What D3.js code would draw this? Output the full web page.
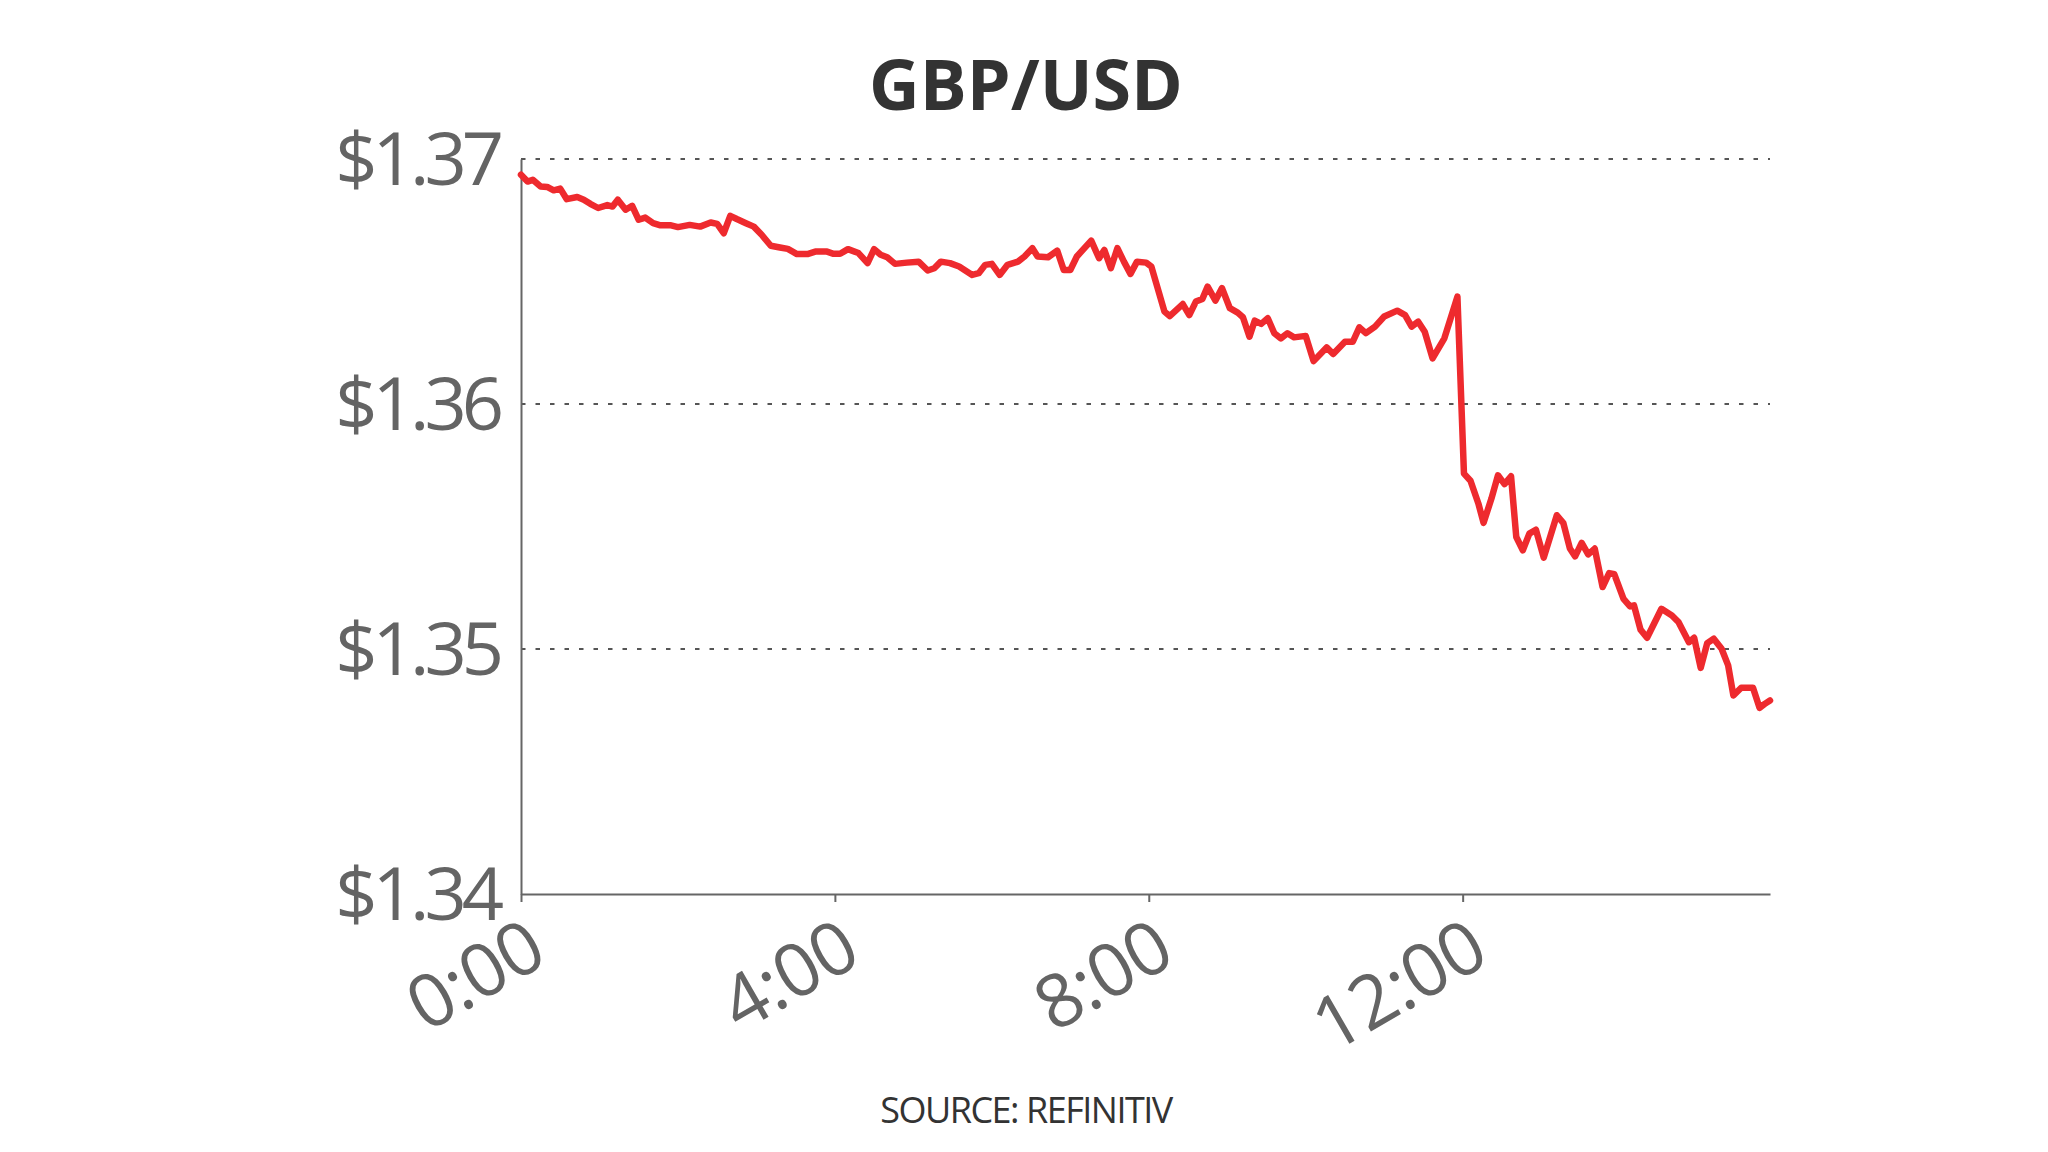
<!DOCTYPE html>
<html>
<head>
<meta charset="utf-8">
<script src="https://cdn.jsdelivr.net/npm/d3@7"></script>
<style>
  html, body { margin: 0; padding: 0; background: #ffffff; }
  svg { display: block; }
</style>
</head>
<body>
<svg id="chart" width="2048" height="1152"></svg>
<script>
// ---- data ----
const title = "GBP/USD";
const source = "SOURCE: REFINITIV";

// minutes since 0:00
const minutes = [
  0,5,9,15,20,25,30,35,43,48,
  53,59,66,70,74,80,85,90,95,101,
  106,114,120,129,137,145,150,155,160,165,
  172,178,184,191,198,204,211,219,225,234,
  239,244,250,258,265,270,275,280,286,295,
  304,311,316,321,328,335,345,350,355,360,
  366,372,380,385,391,395,403,410,415,420,
  425,436,442,446,451,456,461,466,471,478,
  482,492,496,506,511,516,521,525,531,536,
  542,548,552,557,561,566,571,576,581,586,
  591,600,606,616,621,630,636,641,646,653,
  660,670,676,681,686,691,697,706,716,721,
  726,732,736,742,747,752,757,761,766,771,
  776,782,792,797,802,806,811,816,821,827,
  832,836,843,848,851,856,861,872,880,885,
  893,897,902,907,912,918,923,927,933,942,
  947,951,955
];

const rates = [
  1.36936,1.36908,1.36915,1.36888,1.36886,1.36872,1.36879,1.36836,1.36845,1.36834,
  1.36817,1.36800,1.36812,1.36806,1.36834,1.36793,1.36809,1.36752,1.36761,1.36738,
  1.36730,1.36730,1.36722,1.36731,1.36724,1.36741,1.36735,1.36697,1.36768,1.36755,
  1.36738,1.36724,1.36691,1.36646,1.36639,1.36633,1.36612,1.36612,1.36622,1.36622,
  1.36613,1.36613,1.36632,1.36616,1.36575,1.36632,1.36609,1.36599,1.36572,1.36577,
  1.36581,1.36545,1.36554,1.36581,1.36575,1.36561,1.36527,1.36534,1.36568,1.36572,
  1.36527,1.36568,1.36581,1.36602,1.36636,1.36602,1.36599,1.36626,1.36547,1.36547,
  1.36602,1.36667,1.36595,1.36629,1.36554,1.36636,1.36581,1.36531,1.36581,1.36577,
  1.36561,1.36377,1.36359,1.36408,1.36363,1.36418,1.36429,1.36479,1.36422,1.36473,
  1.36391,1.36373,1.36354,1.36275,1.36340,1.36327,1.36350,1.36289,1.36268,1.36289,
  1.36272,1.36278,1.36175,1.36231,1.36204,1.36254,1.36254,1.36313,1.36289,1.36316,
  1.36357,1.36381,1.36363,1.36316,1.36336,1.36295,1.36186,1.36268,1.36438,1.35716,
  1.35687,1.35594,1.35515,1.35614,1.35709,1.35673,1.35705,1.35457,1.35403,1.35471,
  1.35487,1.35373,1.35546,1.35514,1.35410,1.35378,1.35433,1.35386,1.35410,1.35253,
  1.35310,1.35305,1.35205,1.35174,1.35178,1.35079,1.35046,1.35164,1.35137,1.35110,
  1.35028,1.35046,1.34923,1.35024,1.35042,1.35001,1.34933,1.34810,1.34842,1.34842,
  1.34760,1.34776,1.34790
];

const xTickValues = [0, 240, 480, 720];
const xTickLabels = ["0:00", "4:00", "8:00", "12:00"];
const yTickValues = [1.34, 1.35, 1.36, 1.37];
const yTickLabels = ["$1.34", "$1.35", "$1.36", "$1.37"];

// ---- layout ----
const plotLeft = 521, plotRight = 1770, plotTop = 159, plotBottom = 894;

const svg = d3.select("#chart");

const x = d3.scaleLinear().domain([0, 955]).range([plotLeft, plotRight]);
const y = d3.scaleLinear().domain([1.34, 1.37]).range([plotBottom, plotTop]);

const data = minutes.map((m, i) => ({ m, v: rates[i] }));

// title
svg.append("text")
  .attr("x", 1026)
  .attr("y", 110)
  .attr("text-anchor", "middle")
  .attr("font-family", "'Open Sans', sans-serif")
  .attr("font-weight", 700)
  .attr("font-size", 70)
  .attr("fill", "#333333")
  .text(title);

// gridlines
svg.append("g")
  .selectAll("line")
  .data(yTickValues.filter(v => v !== 1.34))
  .join("line")
  .attr("x1", plotLeft)
  .attr("x2", plotRight)
  .attr("y1", d => y(d))
  .attr("y2", d => y(d))
  .attr("stroke", "#555555")
  .attr("stroke-width", 2)
  .attr("stroke-dasharray", "4.5,10");

// y axis
const yAxis = svg.append("g")
  .attr("transform", `translate(${plotLeft},0)`)
  .call(d3.axisLeft(y)
    .tickValues(yTickValues)
    .tickFormat((d, i) => yTickLabels[i])
    .tickSize(0)
    .tickPadding(22));
yAxis.select(".domain").attr("stroke", "#666666").attr("stroke-width", 2);
yAxis.selectAll("text")
  .attr("font-family", "'Open Sans', sans-serif")
  .attr("font-size", 74)
  .attr("letter-spacing", "-5px")
  .attr("fill", "#646464")
  .attr("dy", "0.35em");

// x axis
const xAxis = svg.append("g")
  .attr("transform", `translate(0,${plotBottom})`)
  .call(d3.axisBottom(x)
    .tickValues(xTickValues)
    .tickFormat((d, i) => xTickLabels[i])
    .tickSize(8)
    .tickSizeOuter(0));
xAxis.select(".domain").attr("stroke", "#666666").attr("stroke-width", 2);
xAxis.selectAll(".tick line").attr("stroke", "#666666").attr("stroke-width", 2);
xAxis.selectAll("text")
  .attr("font-family", "'Open Sans', sans-serif")
  .attr("font-size", 74)
  .attr("letter-spacing", "-1px")
  .attr("fill", "#646464")
  .attr("text-anchor", "end")
  .attr("x", 0)
  .attr("y", 0)
  .attr("dy", 0)
  .attr("transform", "translate(28,68) rotate(-30)");

// line
const line = d3.line()
  .x(d => x(d.m))
  .y(d => y(d.v));

svg.append("path")
  .datum(data)
  .attr("d", line)
  .attr("fill", "none")
  .attr("stroke", "#ee2a2e")
  .attr("stroke-width", 6.5)
  .attr("stroke-linejoin", "round")
  .attr("stroke-linecap", "round");

// source
svg.append("text")
  .attr("x", 1026)
  .attr("y", 1123)
  .attr("text-anchor", "middle")
  .attr("font-family", "'Open Sans', sans-serif")
  .attr("font-size", 36)
  .attr("letter-spacing", "-1.5px")
  .attr("fill", "#333333")
  .text(source);
</script>
</body>
</html>
